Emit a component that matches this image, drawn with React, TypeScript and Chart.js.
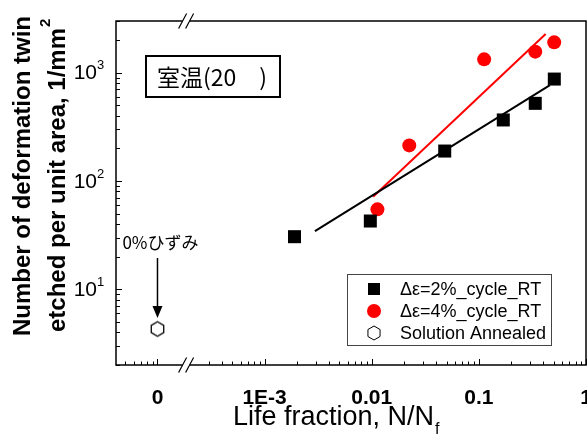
import { useEffect, useRef } from 'react';
import { Chart, registerables } from 'chart.js';

Chart.register(...registerables);

const FONT = '"Liberation Sans", Arial, sans-serif';
const CJK = '"Noto Sans CJK JP", "Noto Sans CJK SC", sans-serif';

// ---- data ----
const cycle2X = [0.0019, 0.0097, 0.048, 0.169, 0.336, 0.506];
const cycle2Y = [30.6, 42.7, 189, 366, 521, 873];
const cycle4X = [0.0113, 0.0224, 0.112, 0.336, 0.505];
const cycle4Y = [54.7, 213, 1328, 1563, 1906];
const annealedX = [1e-4]; // plotted at the "0" position of the broken axis
const annealedY = [4.3];
const fit2X = [0.00295, 0.461];
const fit2Y = [34.5, 769];
const fit4X = [0.0103, 0.42];
const fit4Y = [71.6, 2275];

const xTickValues = [1e-4, 1e-3, 1e-2, 1e-1, 1];
const xTickLabels = ['0', '1E-3', '0.01', '0.1', '1'];
const yTickValues = [10, 100, 1000];
const yTickExponents = ['1', '2', '3'];
const xMin = 4.1e-5;
const xMax = 1;
const yMin = 2;
const yMax = 3000;
const xBreak = 1.85e-4;

const legendLabels = ['Δε=2%_cycle_RT', 'Δε=4%_cycle_RT', 'Solution Annealed'];
const xTitle = 'Life fraction, N/N';
const xTitleSub = 'f';
const yTitle1 = 'Number of deformation twin';
const yTitle2 = 'etched per unit area, 1/mm';
const yTitle2Sup = '2';
const tempLabel = '室温(20\u3000)';
const strainLabel = '0%ひずみ';

function logTicks(min: number, max: number) {
  const out: { v: number; major: boolean }[] = [];
  const lo = Math.floor(Math.log10(min));
  const hi = Math.ceil(Math.log10(max));
  for (let e = lo; e <= hi; e++) {
    for (let k = 1; k <= 9; k++) {
      const v = k * Math.pow(10, e);
      if (v >= min * 0.9999 && v <= max * 1.0001) out.push({ v, major: k === 1 });
    }
  }
  return out;
}

function makeHexagon(r: number, lw: number) {
  const size = Math.ceil(2 * r + lw * 2 + 2);
  const c = document.createElement('canvas');
  c.width = size;
  c.height = size;
  const g = c.getContext('2d')!;
  g.strokeStyle = '#000';
  g.lineWidth = lw;
  g.fillStyle = '#fff';
  g.beginPath();
  for (let i = 0; i < 6; i++) {
    const a = -Math.PI / 2 + (i * Math.PI) / 3;
    const px = size / 2 + r * Math.cos(a);
    const py = size / 2 + r * Math.sin(a);
    if (i === 0) g.moveTo(px, py);
    else g.lineTo(px, py);
  }
  g.closePath();
  g.fill();
  g.stroke();
  return c;
}

function drawHex(ctx: CanvasRenderingContext2D, x: number, y: number, r: number) {
  ctx.beginPath();
  for (let i = 0; i < 6; i++) {
    const a = -Math.PI / 2 + (i * Math.PI) / 3;
    const px = x + r * Math.cos(a);
    const py = y + r * Math.sin(a);
    if (i === 0) ctx.moveTo(px, py);
    else ctx.lineTo(px, py);
  }
  ctx.closePath();
  ctx.fillStyle = '#fff';
  ctx.fill();
  ctx.strokeStyle = '#000';
  ctx.lineWidth = 1;
  ctx.stroke();
}

const decoPlugin = {
  id: 'deco',
  afterDraw(chart: any) {
    const ctx: CanvasRenderingContext2D = chart.ctx;
    const a = chart.chartArea;
    const xs = chart.scales.x;
    const ys = chart.scales.y;
    ctx.save();

    // minor / major ticks (inward)
    const bx = xs.getPixelForValue(xBreak);
    ctx.strokeStyle = '#000';
    ctx.lineWidth = 1;
    for (const t of logTicks(xMin, xMax)) {
      const px = Math.round(xs.getPixelForValue(t.v)) + 0.5;
      if (Math.abs(px - bx) < 10) continue;
      const len = t.major ? 6 : 3.5;
      ctx.beginPath();
      ctx.moveTo(px, a.bottom);
      ctx.lineTo(px, a.bottom - len);
      ctx.stroke();
    }
    for (const t of logTicks(yMin, yMax)) {
      const py = Math.round(ys.getPixelForValue(t.v)) + 0.5;
      const len = t.major ? 6 : 4;
      ctx.beginPath();
      ctx.moveTo(a.left, py);
      ctx.lineTo(a.left + len, py);
      ctx.stroke();
    }

    // frame
    ctx.lineWidth = 1.5;
    ctx.strokeRect(a.left, a.top, a.right - a.left, a.bottom - a.top);

    // axis break marks
    for (const yy of [a.top, a.bottom]) {
      ctx.fillStyle = '#fff';
      ctx.fillRect(bx - 3.5, yy - 2, 7, 4);
      ctx.strokeStyle = '#000';
      ctx.lineWidth = 1.2;
      for (const cx of [bx - 3.5, bx + 3.5]) {
        ctx.beginPath();
        ctx.moveTo(cx - 4, yy + 7.5);
        ctx.lineTo(cx + 4, yy - 7.5);
        ctx.stroke();
      }
    }

    // x tick labels
    ctx.fillStyle = '#000';
    ctx.font = `bold 21px ${FONT}`;
    ctx.textAlign = 'center';
    ctx.textBaseline = 'middle';
    xTickValues.forEach((v, i) => {
      ctx.fillText(xTickLabels[i], xs.getPixelForValue(v), a.bottom + 33);
    });

    // y tick labels
    yTickValues.forEach((v, i) => {
      const py = ys.getPixelForValue(v);
      ctx.font = `21px ${FONT}`;
      ctx.textAlign = 'right';
      ctx.textBaseline = 'middle';
      ctx.fillText('10', a.left - 19, py + 1);
      ctx.font = `13px ${FONT}`;
      ctx.textAlign = 'left';
      ctx.fillText(yTickExponents[i], a.left - 19, py - 7);
    });

    // x title
    ctx.font = `27px ${FONT}`;
    ctx.textAlign = 'left';
    ctx.textBaseline = 'middle';
    const xtX = 233;
    const xtY = 418;
    ctx.fillText(xTitle, xtX, xtY);
    const w = ctx.measureText(xTitle).width;
    ctx.font = `16px ${FONT}`;
    ctx.fillText(xTitleSub, xtX + w + 1, xtY + 12);

    // y title (two lines, rotated)
    ctx.save();
    ctx.translate(23, 176);
    ctx.rotate(-Math.PI / 2);
    ctx.font = `bold 24px ${FONT}`;
    ctx.textAlign = 'center';
    ctx.textBaseline = 'middle';
    ctx.fillText(yTitle1, 0, 0);
    const w2 = ctx.measureText(yTitle2).width;
    ctx.fillText(yTitle2, -4, 35);
    ctx.font = `bold 15px ${FONT}`;
    ctx.textAlign = 'left';
    ctx.fillText(yTitle2Sup, -4 + w2 / 2 + 1, 35 - 12);
    ctx.restore();

    // annotation box: room temperature
    ctx.lineWidth = 2;
    ctx.strokeStyle = '#000';
    ctx.strokeRect(146, 56, 134, 41);
    ctx.font = `23px ${CJK}`;
    ctx.textAlign = 'left';
    ctx.textBaseline = 'middle';
    ctx.fillStyle = '#000';
    ctx.fillText(tempLabel, 157, 77);

    // arrow + label for solution annealed
    const ax = xs.getPixelForValue(annealedX[0]);
    ctx.font = `17px ${CJK}`;
    ctx.textAlign = 'center';
    ctx.fillText(strainLabel, ax + 3, 243);
    ctx.lineWidth = 1.5;
    ctx.beginPath();
    ctx.moveTo(ax, 258);
    ctx.lineTo(ax, 308);
    ctx.stroke();
    ctx.beginPath();
    ctx.moveTo(ax - 5, 306);
    ctx.lineTo(ax + 5, 306);
    ctx.lineTo(ax, 318);
    ctx.closePath();
    ctx.fill();

    // legend
    const lx = 347;
    const ly = 274;
    ctx.lineWidth = 1;
    ctx.strokeStyle = '#444';
    ctx.fillStyle = '#fff';
    ctx.fillRect(lx, ly, 204, 71);
    ctx.strokeRect(lx + 0.5, ly + 0.5, 204, 71);
    const rows = [289, 311, 333];
    const mx = 374;
    ctx.fillStyle = '#000';
    ctx.fillRect(mx - 6, rows[0] - 6, 12, 12);
    ctx.fillStyle = '#ff0000';
    ctx.beginPath();
    ctx.arc(mx, rows[1], 7, 0, Math.PI * 2);
    ctx.fill();
    drawHex(ctx, mx, rows[2], 7);
    ctx.fillStyle = '#000';
    ctx.font = `18px ${FONT}`;
    ctx.textAlign = 'left';
    ctx.textBaseline = 'middle';
    legendLabels.forEach((t, i) => ctx.fillText(t, 400, rows[i] + 1));

    ctx.restore();
  },
};

export default function App() {
  const ref = useRef<HTMLCanvasElement | null>(null);
  useEffect(() => {
    if (!ref.current) return;
    const hex = makeHexagon(7.2, 1.3);
    const chart = new Chart(ref.current, {
      type: 'scatter',
      data: {
        datasets: [
          {
            label: legendLabels[0],
            data: cycle2X.map((x, i) => ({ x, y: cycle2Y[i] })),
            pointStyle: 'rect',
            pointRadius: 9.2,
            backgroundColor: '#000',
            borderColor: '#000',
            borderWidth: 0,
            showLine: false,
            order: 1,
          },
          {
            label: legendLabels[1],
            data: cycle4X.map((x, i) => ({ x, y: cycle4Y[i] })),
            pointStyle: 'circle',
            pointRadius: 7,
            backgroundColor: '#ff0000',
            borderColor: '#ff0000',
            borderWidth: 0,
            showLine: false,
            order: 1,
          },
          {
            label: legendLabels[2],
            data: annealedX.map((x, i) => ({ x, y: annealedY[i] })),
            pointStyle: hex as any,
            pointRadius: 7,
            showLine: false,
            order: 1,
          },
          {
            label: 'fit 2%',
            data: fit2X.map((x, i) => ({ x, y: fit2Y[i] })),
            showLine: true,
            pointRadius: 0,
            borderColor: '#000',
            borderWidth: 2,
            order: 2,
          },
          {
            label: 'fit 4%',
            data: fit4X.map((x, i) => ({ x, y: fit4Y[i] })),
            showLine: true,
            pointRadius: 0,
            borderColor: '#ff0000',
            borderWidth: 2,
            order: 2,
          },
        ],
      },
      options: {
        responsive: false,
        animation: false,
        events: [],
        layout: { autoPadding: false, padding: { left: 116, top: 21, right: 1, bottom: 71 } },
        scales: {
          x: { type: 'logarithmic', min: xMin, max: xMax, display: false },
          y: { type: 'logarithmic', min: yMin, max: yMax, display: false },
        },
        plugins: { legend: { display: false }, tooltip: { enabled: false } },
      },
      plugins: [decoPlugin],
    });
    return () => chart.destroy();
  }, []);
  return (
    <div style={{ position: 'absolute', left: 0, top: 0, width: 587, height: 436, background: '#fff' }}>
      <canvas ref={ref} width={587} height={436} />
    </div>
  );
}
